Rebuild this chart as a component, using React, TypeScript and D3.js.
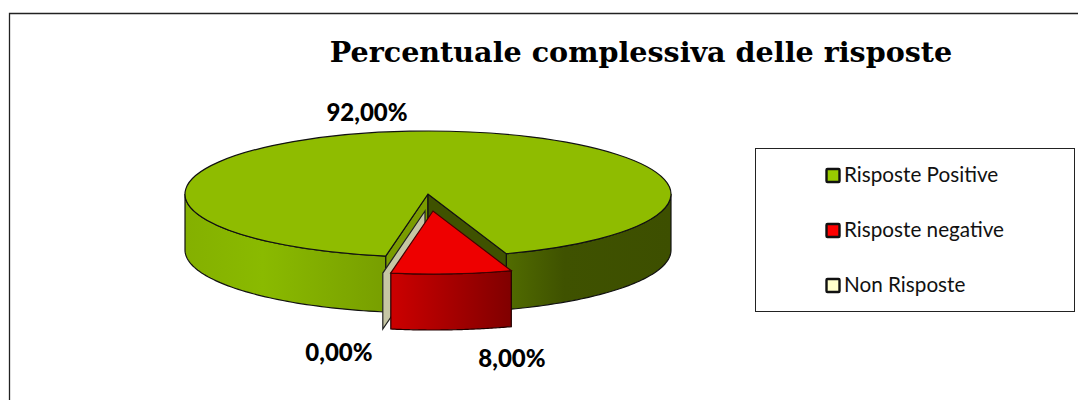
import * as d3 from "d3";

const categories = ["Risposte Positive", "Risposte negative", "Non Risposte"];
const values = [92, 8, 0];
const labels = ["92,00%", "8,00%", "0,00%"];
const legendColors = ["#99cc00", "#ff0000", "#ffffcc"];
const title = "Percentuale complessiva delle risposte";

const width = 1078;
const height = 400;
const cx = 428;
const cy = 194;
const rx = 243;
const ry = 63;
const depth = 56;
const toRad = Math.PI / 180;

// pie starts where the 0% slice sits, just left of straight down
const pie = d3.pie<number>().sort(null).startAngle(190 * toRad).endAngle(550 * toRad);
const arcs = pie(values);
const arcUnit = d3.arc<any>().innerRadius(0).outerRadius(1);

// offset of each exploded slice, in px
const explodeX = [0, 5, -3];
const explodeY = [0, 17, 17];

const px = (a: number, i: number) => cx + explodeX[i] + rx * Math.sin(a);
const py = (a: number, i: number) => cy + explodeY[i] - ry * Math.cos(a);
const line = d3.line();

function wallPath(a0: number, a1: number, i: number) {
    const steps = d3.range(0, 61).map((k) => a0 + ((a1 - a0) * k) / 60);
    const top = steps.map((a) => [px(a, i), py(a, i)] as [number, number]);
    const bottom = steps.slice().reverse().map((a) => [px(a, i), py(a, i) + depth] as [number, number]);
    return line([...top, ...bottom]) + "Z";
}

function cutWall(a: number, i: number) {
    const ax = cx + explodeX[i];
    const ay = cy + explodeY[i];
    return line([[ax, ay], [px(a, i), py(a, i)], [px(a, i), py(a, i) + depth], [ax, ay + depth]]) + "Z";
}

export default function App() {
    const green = arcs[0];
    const red = arcs[1];
    const zero = arcs[2];
    const legendY = d3.scalePoint<string>().domain(categories).range([175, 285]);

    // green wedge wraps past 360, so split the front walls on each side of the cut
    const greenLeft = wallPath(green.startAngle, 270 * toRad, 0);
    const greenRight = wallPath(90 * toRad, green.endAngle - 2 * Math.PI, 0);
    const redOuter = wallPath(red.startAngle - 2 * Math.PI, red.endAngle - 2 * Math.PI, 1);

    return (
        <svg
            width={width}
            height={height}
            style={{ position: "absolute", left: 0, top: 0, background: "#fff" }}
        >
            <defs>
                <linearGradient id="wallGreen" gradientUnits="userSpaceOnUse" x1={cx - rx} x2={cx + rx} y1={0} y2={0}>
                    <stop offset="0" stopColor="#84b000" />
                    <stop offset="0.16" stopColor="#8aba00" />
                    <stop offset="0.41" stopColor="#789f00" />
                    <stop offset="0.67" stopColor="#506a00" />
                    <stop offset="0.78" stopColor="#3f5200" />
                    <stop offset="1" stopColor="#3d4f00" />
                </linearGradient>
                <linearGradient id="wallRed" x1="0" x2="1" y1="0" y2="0">
                    <stop offset="0" stopColor="#cc0000" />
                    <stop offset="1" stopColor="#800000" />
                </linearGradient>
            </defs>

            {/* frame */}
            <path d={`M9.5 ${height}V13.5H${width}`} fill="none" stroke="#222" strokeWidth={1.3} />

            <text x={641} y={62} textAnchor="middle" fontFamily="'DejaVu Serif'" fontWeight="bold" fontSize={28.6} fill="#000">
                {title}
            </text>

            {/* green slice */}
            <path d={greenLeft} fill="url(#wallGreen)" stroke="#111" strokeWidth={1.2} />
            <path d={greenRight} fill="url(#wallGreen)" stroke="#111" strokeWidth={1.2} />
            <path d={cutWall(green.startAngle, 0)} fill="#7a9c00" stroke="#111" strokeWidth={1.2} />
            <path d={cutWall(green.endAngle, 0)} fill="#3f5200" stroke="#111" strokeWidth={1.2} />
            <path
                d={arcUnit(green) as string}
                transform={`translate(${cx},${cy}) scale(${rx},${ry})`}
                fill="#8fbc00"
                stroke="#111"
                strokeWidth={1.2}
                vectorEffect="non-scaling-stroke"
            />

            {/* 0% slice is just its wall */}
            <path d={cutWall(zero.startAngle, 2)} fill="#c6c6a4" stroke="#222" strokeWidth={1.2} />

            {/* red slice */}
            <path d={redOuter} fill="url(#wallRed)" stroke="#200" strokeWidth={1.2} />
            <path
                d={arcUnit(red) as string}
                transform={`translate(${cx + explodeX[1]},${cy + explodeY[1]}) scale(${rx},${ry})`}
                fill="#ee0000"
                stroke="#400"
                strokeWidth={1.2}
                vectorEffect="non-scaling-stroke"
            />

            {/* data labels */}
            <g fontFamily="Lato" fontWeight="900" fontSize={24} fill="#000" textAnchor="middle">
                <text x={367} y={121}>{labels[0]}</text>
                <text x={512} y={367}>{labels[1]}</text>
                <text x={339} y={361}>{labels[2]}</text>
            </g>

            {/* legend */}
            <rect x={755.5} y={148.5} width={319} height={163} fill="#fff" stroke="#222" strokeWidth={1} />
            {categories.map((c, i) => (
                <g key={c}>
                    <rect
                        x={826.5}
                        y={(legendY(c) as number) - 6}
                        width={13}
                        height={13}
                        rx={1}
                        fill={legendColors[i]}
                        stroke="#111"
                        strokeWidth={2.4}
                    />
                    <text x={844} y={(legendY(c) as number) + 7} fontFamily="Lato" fontSize={20.7} fill="#111">
                        {c}
                    </text>
                </g>
            ))}
        </svg>
    );
}
